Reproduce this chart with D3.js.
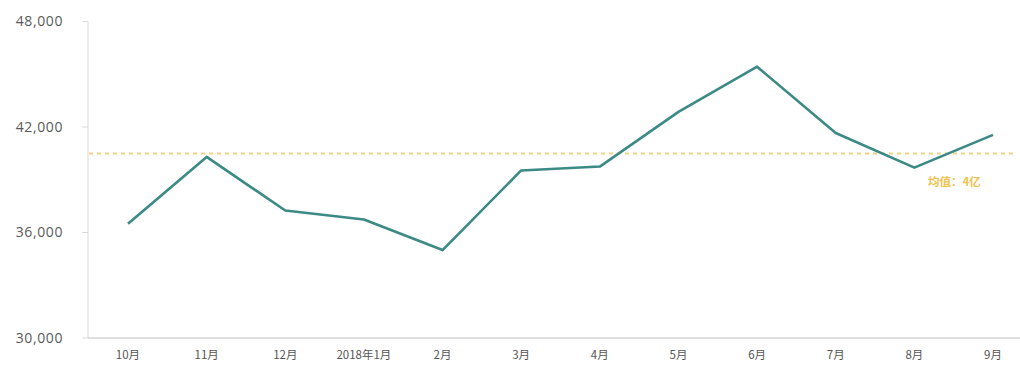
<!DOCTYPE html>
<html>
<head>
<meta charset="utf-8">
<script src="https://cdn.jsdelivr.net/npm/d3@7/dist/d3.min.js"></script>
<style>
  html, body { margin: 0; padding: 0; background: #fff; }
  svg { display: block; }
  .ytick text { font-family: "Open Sans", "Noto Sans CJK SC", sans-serif; font-size: 14px; fill: #5a5a5a; letter-spacing: 0.6px; }
  .xtick text { font-family: "Noto Sans CJK SC", sans-serif; font-size: 11.5px; fill: #555; }
</style>
</head>
<body>
<script>
// Monthly figures, Oct 2017 – Sep 2018
const months = ["10月", "11月", "12月", "2018年1月", "2月", "3月", "4月", "5月", "6月", "7月", "8月", "9月"];
const values = [36500, 40300, 37250, 36740, 35000, 39530, 39750, 42860, 45430, 41660, 39690, 41550];
const yTicks = [30000, 36000, 42000, 48000];
const meanValue = 40500;
const meanLabel = "均值：4亿";

const W = 1020, H = 372;
const svg = d3.select("body").append("svg").attr("width", W).attr("height", H);

const x = d3.scalePoint().domain(months).range([128, 993]);
const y = d3.scaleLinear().domain([30000, 48000]).range([338, 21.5]);

// y axis
const yAxis = svg.append("g").attr("transform", "translate(88,0)");
yAxis.append("line").attr("x1", 0).attr("x2", 0)
  .attr("y1", y(48000)).attr("y2", y(30000))
  .attr("stroke", "#d9d9d9").attr("stroke-width", 1);
const yt = yAxis.selectAll(".ytick").data(yTicks).enter().append("g")
  .attr("class", "ytick").attr("transform", d => `translate(0,${y(d)})`);
yt.append("line").attr("x1", -6).attr("x2", 0).attr("stroke", "#d9d9d9");
yt.append("text").attr("x", -25).attr("dy", "0.35em").attr("text-anchor", "end")
  .text(d => d3.format(",")(d));

// x axis baseline and labels
svg.append("line").attr("x1", 88).attr("x2", W)
  .attr("y1", y(30000)).attr("y2", y(30000))
  .attr("stroke", "#d4d4d4").attr("stroke-width", 1.4);
svg.selectAll(".xtick").data(months).enter().append("g")
  .attr("class", "xtick")
  .append("text")
  .attr("x", d => x(d)).attr("y", 359).attr("text-anchor", "middle")
  .text(d => d);

// average reference line
svg.append("line").attr("x1", 89).attr("x2", 1013)
  .attr("y1", y(meanValue)).attr("y2", y(meanValue))
  .attr("stroke", "#f4d27e").attr("stroke-width", 2)
  .attr("stroke-dasharray", "4,4");
svg.append("text").attr("x", 928).attr("y", 182).attr("dy", "0.35em")
  .attr("font-family", "Noto Sans CJK SC, sans-serif").attr("font-size", 11.5)
  .attr("font-weight", 700)
  .attr("fill", "#f0c24f").text(meanLabel);

// series line
const line = d3.line().x((d, i) => x(months[i])).y(d => y(d));
svg.append("path").datum(values)
  .attr("d", line).attr("fill", "none")
  .attr("stroke", "#3b8a86").attr("stroke-width", 2.6)
  .attr("stroke-linejoin", "round");
</script>
</body>
</html>
